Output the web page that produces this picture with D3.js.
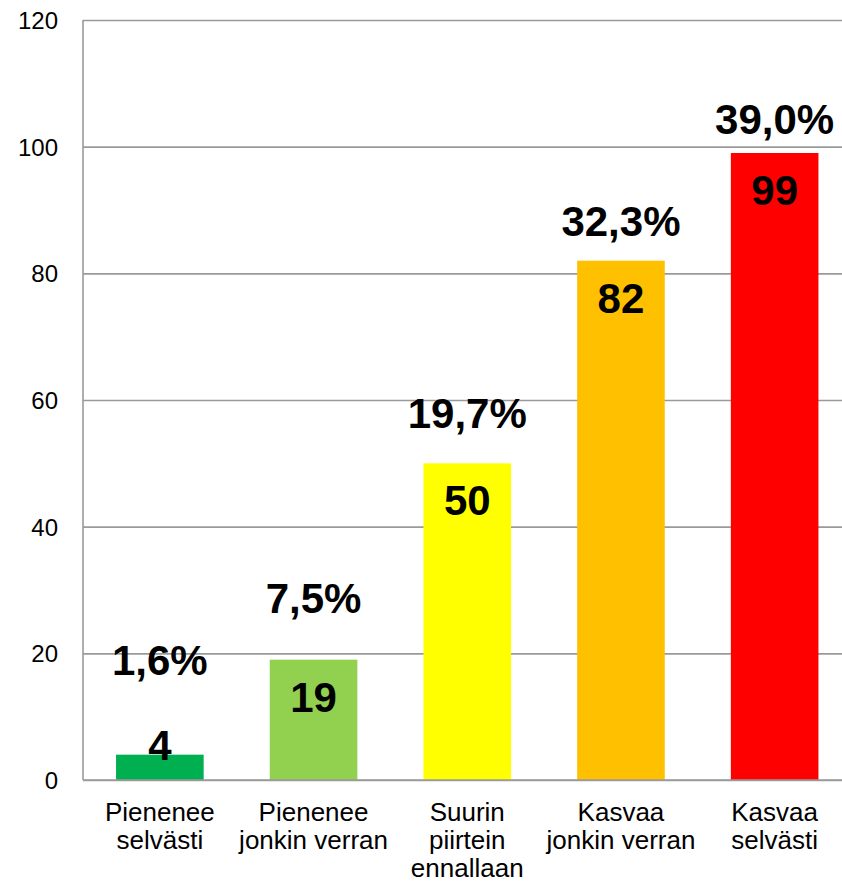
<!DOCTYPE html>
<html>
<head>
<meta charset="utf-8">
<script src="https://d3js.org/d3.v7.min.js"></script>
<style>
	body { margin: 0; background: #fff; }
	#chart-container text { font-family: "Liberation Sans", Arial, sans-serif; }
</style>
</head>
<body>
<div id="chart-container"></div>
<script>
// data
let categories = [
	["Pienenee", "selvästi"],
	["Pienenee", "jonkin verran"],
	["Suurin", "piirtein", "ennallaan"],
	["Kasvaa", "jonkin verran"],
	["Kasvaa", "selvästi"]
];
let counts = [4, 19, 50, 82, 99];
let shares = [1.6, 7.5, 19.7, 32.3, 39.0];
let barColors = ["#00b050", "#92d050", "#ffff00", "#ffc000", "#ff0000"];
let yTicks = [0, 20, 40, 60, 80, 100, 120];

class BarChart {
	constructor()
	{
		this.width = 842;
		this.height = 884;
		this.left = 83;
		this.right = 851.5;
		this.top = 20;
		this.bottom = 780;

		this.drawChart();
	}

	drawChart()
	{
		let that = this;

		let svg = d3.select("#chart-container").append("svg")
			.attr("width", this.width)
			.attr("height", this.height);

		let idx = d3.range(counts.length);

		let x = d3.scaleBand()
			.domain(idx)
			.range([this.left, this.right])
			.paddingInner(0.43)
			.paddingOuter(0.215);

		let y = d3.scaleLinear()
			.domain([0, 120])
			.range([this.bottom, this.top]);

		// percentages sit on a hidden secondary axis 0..50 %
		let y2 = d3.scaleLinear()
			.domain([0, 50])
			.range([this.bottom, this.top]);

		//gridlines
		let yAxis = d3.axisLeft(y)
			.tickValues(yTicks)
			.tickSize(-(this.width - this.left))
			.tickPadding(25)
			.tickFormat(d3.format("d"));

		let gAxis = svg.append("g")
			.attr("transform", "translate(" + this.left + ",0)")
			.call(yAxis);
		gAxis.select(".domain").remove();
		gAxis.selectAll(".tick line")
			.attr("stroke", "#9a9a9a")
			.attr("stroke-width", 1.6);
		gAxis.selectAll(".tick text")
			.attr("font-size", "24px")
			.attr("fill", "#000")
			.attr("dy", "0.36em");

		svg.append("line")
			.attr("x1", this.left).attr("x2", this.left)
			.attr("y1", y(120)).attr("y2", y(0))
			.attr("stroke", "#9a9a9a")
			.attr("stroke-width", 1.6);

		//bars
		svg.selectAll("rect.bar")
			.data(idx)
			.join("rect")
			.classed("bar", true)
			.attr("x", i => x(i))
			.attr("width", x.bandwidth())
			.attr("y", i => y(counts[i]))
			.attr("height", i => y(0) - y(counts[i]))
			.attr("fill", i => barColors[i]);

		// redraw the baseline over the bars
		svg.append("line")
			.attr("x1", this.left).attr("x2", this.width)
			.attr("y1", y(0)).attr("y2", y(0))
			.attr("stroke", "#9a9a9a")
			.attr("stroke-width", 1.6);

		let fits = i => (y(0) - y(counts[i])) > 52;
		let valueBase = i => fits(i) ? y(counts[i]) + 52 : y(0) - 20;

		//count labels
		svg.selectAll("text.count")
			.data(idx)
			.join("text")
			.classed("count", true)
			.attr("x", i => x(i) + x.bandwidth() / 2)
			.attr("y", valueBase)
			.attr("text-anchor", "middle")
			.attr("font-size", "42px")
			.attr("font-weight", "bold")
			.text(i => counts[i]);

		//percentage labels
		let fmt = d3.format(".1f");
		svg.selectAll("text.share")
			.data(idx)
			.join("text")
			.classed("share", true)
			.attr("x", i => x(i) + x.bandwidth() / 2)
			.attr("y", i => fits(i) ? y2(shares[i]) - 53 : valueBase(i) - 85)
			.attr("text-anchor", "middle")
			.attr("font-size", "42px")
			.attr("font-weight", "bold")
			.text(i => fmt(shares[i]).replace(".", ",") + "%");

		//category labels
		let cat = svg.selectAll("text.cat")
			.data(idx)
			.join("text")
			.classed("cat", true)
			.attr("x", i => x(i) + x.bandwidth() / 2)
			.attr("y", y(0) + 41)
			.attr("text-anchor", "middle")
			.attr("font-size", "26px")
			.attr("fill", "#000");

		cat.selectAll("tspan")
			.data(i => categories[i])
			.join("tspan")
			.attr("x", function() { return d3.select(this.parentNode).attr("x"); })
			.attr("dy", (d, j) => j == 0 ? 0 : 28)
			.text(d => d);
	}
}

let chart = new BarChart();
</script>
</body>
</html>
